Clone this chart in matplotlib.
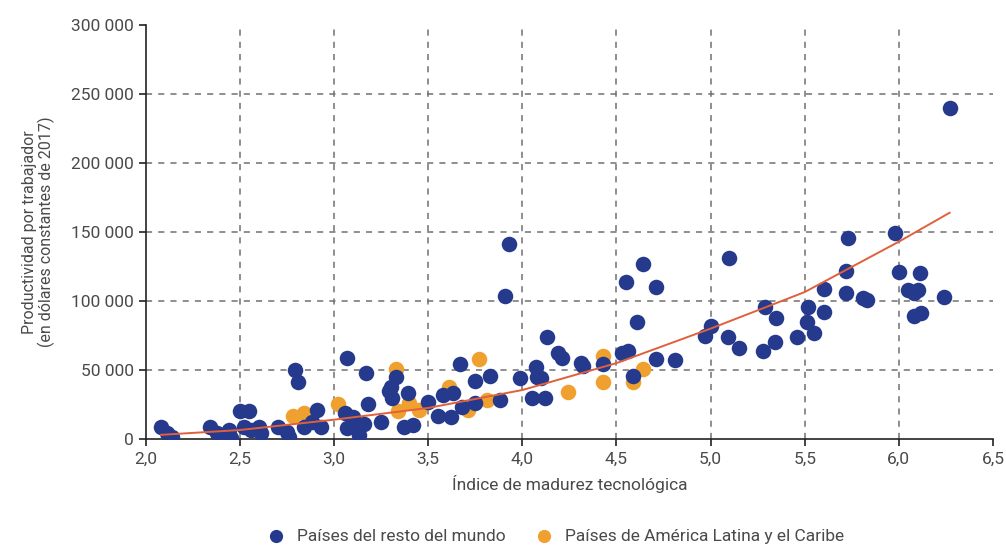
import matplotlib
matplotlib.use("Agg")
import matplotlib.pyplot as plt
import numpy as np

plt.rcParams['font.family'] = ['Roboto', 'DejaVu Sans']

# Países del resto del mundo
restoX = [2.08, 2.11, 2.14, 2.34, 2.38, 2.40, 2.44, 2.45, 2.50, 2.55, 2.52, 2.56, 2.60, 2.61,
          2.70, 2.75, 2.76, 2.84, 2.88, 2.91, 2.93, 2.79, 2.81,
          3.07, 3.17, 3.06, 3.10, 3.07, 3.12, 3.13, 3.16, 3.25, 3.18, 3.33, 3.30, 3.29, 3.31,
          3.39, 3.37, 3.42,
          3.50, 3.55, 3.58, 3.63, 3.62, 3.68, 3.75, 3.67, 3.75, 3.83, 3.88, 3.99, 3.93, 3.91,
          4.05, 4.12, 4.07, 4.08, 4.10, 4.13, 4.19, 4.21, 4.31, 4.32, 4.43,
          4.53, 4.56, 4.55, 4.64, 4.71, 4.61, 4.59, 4.71, 4.81,
          5.00, 4.97, 5.09, 5.15, 5.10, 5.29, 5.35, 5.28, 5.34, 5.46, 5.52, 5.51, 5.55, 5.60,
          5.60, 5.72, 5.72, 5.73, 5.81, 5.83, 5.98, 6.00, 6.11, 6.05, 6.10, 6.08, 6.08, 6.12,
          6.24, 6.27]
restoY = [9000, 4000, 1500, 9000, 4000, 1000, 6500, 1000, 20000, 20000, 9000, 6500, 9000, 4000,
          9000, 5000, 1500, 9000, 12000, 21000, 9000, 50000, 41000,
          59000, 48000, 19000, 16000, 8000, 7000, 3000, 11000, 12000, 25000, 45000, 38000, 35000, 30000,
          33000, 9000, 10000,
          27000, 17000, 32000, 33000, 16000, 23000, 26000, 54000, 42000, 46000, 28000, 44000, 141000, 104000,
          30000, 30000, 52000, 45000, 44000, 74000, 62000, 59000, 55000, 53000, 54000,
          62000, 64000, 114000, 127000, 110000, 85000, 46000, 58000, 57000,
          82000, 75000, 74000, 66000, 131000, 96000, 88000, 64000, 70000, 74000, 96000, 85000, 77000, 92000,
          109000, 122000, 106000, 146000, 102000, 101000, 149000, 121000, 120000, 108000, 108000, 106000, 89000, 91000,
          103000, 240000]

# Países de América Latina y el Caribe
latamX = [2.78, 2.84, 3.02, 3.33, 3.34, 3.40, 3.45, 3.61, 3.77, 3.81, 3.71, 4.24, 4.43, 4.43,
          4.64, 4.59]
latamY = [17000, 19000, 25000, 51000, 20000, 26000, 21000, 38000, 58000, 28000, 21000, 34000, 60000, 41000,
          51000, 41000]

# linea de tendencia
trendX = [2.08, 2.5, 3.0, 3.5, 4.0, 4.5, 5.0, 5.5, 6.0, 6.27]
trendY = [3000, 6500, 14000, 22500, 35500, 55000, 80000, 106500, 143000, 164000]

xTicks = [2.0, 2.5, 3.0, 3.5, 4.0, 4.5, 5.0, 5.5, 6.0, 6.5]
yTicks = [0, 50000, 100000, 150000, 200000, 250000, 300000]

blue = '#253a8c'
orange = '#f0a02e'
textColor = '#4a4a4a'

fig = plt.figure(figsize=(10.06, 5.46), dpi=100)
ax = fig.add_axes([0.145, 0.196, 0.842, 0.758])

ax.scatter(latamX, latamY, s=125, color=orange, zorder=3, linewidths=0,
           label='Países de América Latina y el Caribe')
ax.scatter(restoX, restoY, s=125, color=blue, zorder=4, linewidths=0,
           label='Países del resto del mundo')
ax.plot(trendX, trendY, color='#e0603c', lw=1.4, zorder=5)

ax.set_xlim(2.0, 6.5)
ax.set_ylim(0, 300000)
ax.set_xticks(xTicks)
ax.set_xticklabels([f"{t:.1f}".replace('.', ',') for t in xTicks])
ax.set_yticks(yTicks)
ax.set_yticklabels([f"{t:,}".replace(',', ' ') for t in yTicks])

ax.grid(True, linestyle=(0, (4, 4)), color='#707070', lw=1.1, zorder=0)
ax.get_ygridlines()[-1].set_visible(False)
ax.get_ygridlines()[0].set_visible(False)
ax.get_xgridlines()[-1].set_visible(False)
ax.get_xgridlines()[0].set_visible(False)

for side in ['top', 'right']:
    ax.spines[side].set_visible(False)
for side in ['left', 'bottom']:
    ax.spines[side].set_color('#222222')
    ax.spines[side].set_linewidth(1.2)

ax.tick_params(axis='both', direction='out', length=5, width=1.2, color='#222222',
               labelsize=12.5, labelcolor=textColor)
ax.tick_params(axis='x', pad=4)

ax.set_xlabel('Índice de madurez tecnológica', fontsize=12.5, color=textColor, labelpad=6)
ax.set_ylabel('Productividad por trabajador\n(en dólares constantes de 2017)', fontsize=11.5,
              color=textColor, labelpad=12, linespacing=1.0)

handles, labels = ax.get_legend_handles_labels()
fig.legend(handles[::-1], labels[::-1], loc='lower center', bbox_to_anchor=(0.548, -0.025),
           ncol=2, frameon=False, fontsize=12.5, labelcolor=textColor,
           handletextpad=0.2, columnspacing=1.2, markerscale=0.85)

fig.savefig('out.png', dpi=100)
